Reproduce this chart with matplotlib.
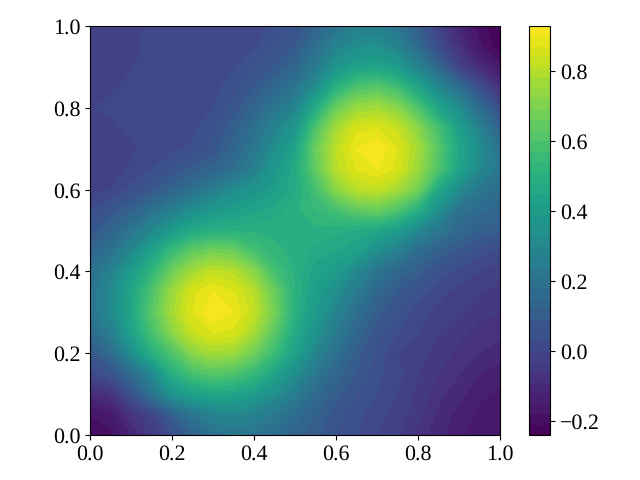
import numpy as np
import matplotlib
matplotlib.use("Agg")
import matplotlib.pyplot as plt

plt.rcParams['font.family'] = 'Liberation Serif'
plt.rcParams['text.hinting'] = 'none'
plt.rcParams['text.hinting_factor'] = 1

x_values = np.linspace(0, 1, 21)
y_values = np.linspace(0, 1, 21)
levels = np.linspace(-0.24, 0.93, 40)
xticks = [0.0, 0.2, 0.4, 0.6, 0.8, 1.0]
cbar_ticks = [-0.2, 0.0, 0.2, 0.4, 0.6, 0.8]

# rows from y=0 to y=1, columns from x=0 to x=1
z_rows = [
 [-.20,-.19,-.12,-.05,.03,.12,.19,.21,.20,.17,.13,.10,.06,.03,.00,-.03,-.07,-.11,-.14,-.17,-.18],
 [-.18,-.16,-.07,.00,.11,.21,.28,.30,.28,.23,.17,.12,.07,.04,.01,-.01,-.05,-.10,-.13,-.16,-.18],
 [-.10,-.07,.05,.20,.36,.42,.45,.44,.40,.33,.25,.16,.10,.06,.03,.00,-.04,-.08,-.11,-.14,-.16],
 [.01,.06,.16,.30,.49,.58,.62,.60,.54,.44,.33,.22,.14,.09,.04,.01,-.03,-.06,-.09,-.12,-.13],
 [.08,.16,.33,.49,.60,.72,.77,.75,.67,.55,.42,.29,.19,.10,.05,.00,-.02,-.04,-.07,-.09,-.11],
 [.16,.25,.42,.58,.72,.83,.87,.86,.77,.63,.47,.35,.24,.14,.07,.03,.00,-.03,-.05,-.07,-.08],
 [.21,.31,.45,.62,.77,.87,.93,.90,.82,.68,.50,.39,.28,.18,.10,.06,.01,-.01,-.03,-.05,-.06],
 [.21,.31,.44,.60,.75,.86,.90,.87,.80,.66,.51,.41,.33,.24,.15,.09,.05,.01,-.01,-.03,-.04],
 [.18,.27,.40,.52,.67,.77,.82,.80,.72,.58,.50,.43,.40,.30,.21,.15,.10,.05,.02,.00,-.02],
 [.13,.20,.30,.42,.55,.64,.68,.66,.58,.52,.50,.47,.45,.42,.33,.26,.17,.12,.08,.04,.02],
 [.07,.13,.21,.30,.39,.46,.49,.50,.50,.50,.50,.50,.49,.47,.45,.40,.30,.22,.15,.11,.10],
 [.03,.07,.12,.19,.26,.33,.38,.41,.44,.46,.50,.54,.58,.64,.66,.60,.49,.34,.20,.16,.14],
 [-.01,.00,.04,.08,.13,.19,.25,.31,.36,.41,.47,.58,.72,.80,.82,.77,.68,.45,.32,.22,.17],
 [-.02,-.015,.005,.03,.06,.10,.13,.18,.26,.37,.47,.64,.80,.87,.90,.86,.75,.60,.44,.31,.22],
 [-.02,-.015,-.005,.01,.02,.035,.07,.14,.22,.33,.44,.66,.81,.90,.93,.87,.77,.62,.45,.33,.20],
 [-.01,-.005,.008,.012,.018,.024,.05,.11,.19,.28,.37,.60,.77,.86,.87,.83,.72,.58,.42,.27,.13],
 [-.001,.005,.012,.015,.018,.022,.03,.07,.13,.21,.29,.47,.66,.75,.77,.72,.60,.44,.32,.17,.04],
 [-.01,-.003,.006,.012,.015,.018,.022,.045,.09,.15,.21,.33,.50,.60,.62,.57,.44,.30,.18,.04,-.08],
 [-.015,-.01,-.002,.008,.012,.015,.018,.027,.06,.09,.14,.24,.36,.42,.44,.39,.28,.14,-.01,-.10,-.16],
 [-.02,-.015,-.005,.005,.01,.012,.015,.018,.025,.06,.09,.18,.28,.33,.34,.28,.16,.03,-.08,-.17,-.235],
 [-.02,-.018,-.005,.004,.008,.01,.012,.015,.02,.035,.06,.13,.20,.25,.26,.20,.10,-.02,-.12,-.20,-.235],
]

fig = plt.figure(figsize=(6.4, 4.8), dpi=100)
ax = fig.add_axes([90/640, 45/480, 410/640, 409/480])
cax = fig.add_axes([529/640, 45/480, 21/640, 409/480])

cf = ax.contourf(x_values, y_values, np.array(z_rows), levels=levels, cmap='viridis')
ax.set_xlim(0, 1)
ax.set_ylim(0, 1)
ax.set_xticks(xticks)
ax.set_yticks(xticks)
ax.tick_params(labelsize=16)

cb = fig.colorbar(cf, cax=cax)
cb.set_ticks(cbar_ticks)
cb.ax.tick_params(labelsize=16)

fig.savefig('out.png', dpi=100)
